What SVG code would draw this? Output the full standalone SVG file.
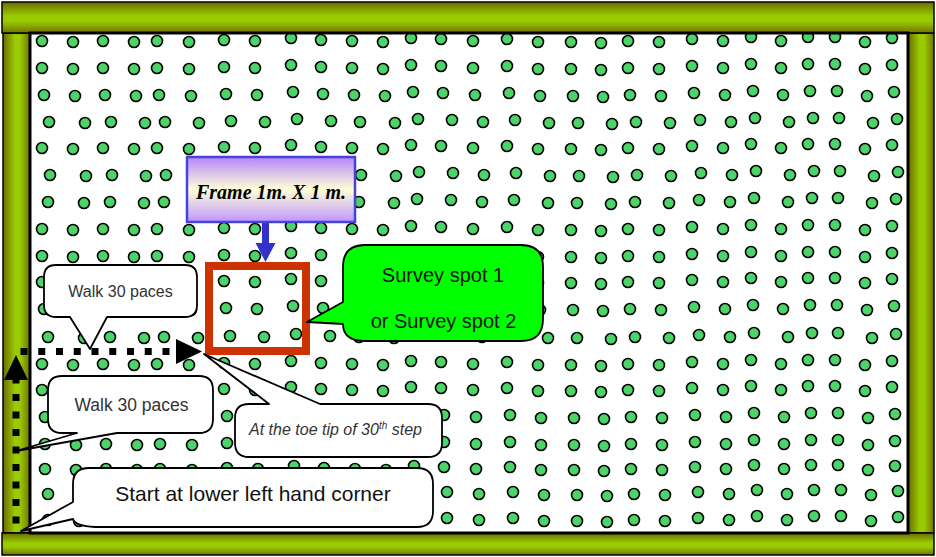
<svg xmlns="http://www.w3.org/2000/svg" xmlns:xlink="http://www.w3.org/1999/xlink" width="936" height="557" viewBox="0 0 936 557">
<style>
.bar{stroke:#000;stroke-width:1.5}
.call{fill:#fff;stroke:#000;stroke-width:1.8;stroke-linejoin:round}
.t{font-family:"Liberation Sans",Arial,sans-serif;text-anchor:middle}
.dash{fill:none;stroke:#000;stroke-width:7}
</style>
<defs>
<linearGradient id="gV" x1="0" y1="0" x2="0" y2="1">
<stop offset="0" stop-color="#6b6b00"/><stop offset="0.45" stop-color="#99cc00"/><stop offset="0.62" stop-color="#99cc00"/><stop offset="1" stop-color="#737300"/>
</linearGradient>
<linearGradient id="gH" x1="0" y1="0" x2="1" y2="0">
<stop offset="0" stop-color="#6b6b00"/><stop offset="0.45" stop-color="#99cc00"/><stop offset="0.62" stop-color="#99cc00"/><stop offset="1" stop-color="#737300"/>
</linearGradient>
<linearGradient id="gF" x1="0" y1="0" x2="0" y2="1">
<stop offset="0" stop-color="#b586ff"/><stop offset="0.5" stop-color="#ffffd6"/><stop offset="1" stop-color="#bf95ff"/>
</linearGradient>
<circle id="d" cx="0" cy="0" r="5.5" fill="#4cd46a" stroke="#000" stroke-width="1.6"/>
<g id="rA">
<use href="#d" x="42" y="0"/><use href="#d" x="73" y="1"/><use href="#d" x="103" y="0"/><use href="#d" x="134" y="1"/><use href="#d" x="157" y="0"/><use href="#d" x="189" y="1"/><use href="#d" x="224" y="-1"/><use href="#d" x="255" y="0"/><use href="#d" x="291" y="-3"/><use href="#d" x="321" y="-1"/><use href="#d" x="352" y="0"/><use href="#d" x="383" y="1"/><use href="#d" x="411" y="-3"/><use href="#d" x="441" y="-2"/><use href="#d" x="473" y="0"/><use href="#d" x="507" y="-2"/><use href="#d" x="538" y="1"/><use href="#d" x="571" y="1"/><use href="#d" x="601" y="2"/><use href="#d" x="628" y="0"/><use href="#d" x="659" y="1"/><use href="#d" x="692" y="-2"/><use href="#d" x="723" y="0"/><use href="#d" x="751" y="-4"/><use href="#d" x="781" y="0"/><use href="#d" x="808" y="-4"/><use href="#d" x="835" y="-4"/><use href="#d" x="865" y="1"/><use href="#d" x="892" y="-3"/>
</g>
<g id="rB">
<use href="#d" x="49" y="0"/><use href="#d" x="85" y="1"/><use href="#d" x="111" y="0"/><use href="#d" x="145" y="1"/><use href="#d" x="165" y="0"/><use href="#d" x="199" y="1"/><use href="#d" x="231" y="-1"/><use href="#d" x="265" y="0"/><use href="#d" x="297" y="-3"/><use href="#d" x="331" y="-1"/><use href="#d" x="360" y="0"/><use href="#d" x="395" y="1"/><use href="#d" x="418" y="-3"/><use href="#d" x="452" y="-2"/><use href="#d" x="483" y="0"/><use href="#d" x="515" y="-2"/><use href="#d" x="549" y="1"/><use href="#d" x="578" y="1"/><use href="#d" x="612" y="2"/><use href="#d" x="636" y="0"/><use href="#d" x="670" y="1"/><use href="#d" x="700" y="-2"/><use href="#d" x="731" y="0"/><use href="#d" x="755" y="-4"/><use href="#d" x="789" y="0"/><use href="#d" x="813" y="-4"/><use href="#d" x="839" y="-4"/><use href="#d" x="873" y="1"/><use href="#d" x="897" y="-3"/>
</g>
</defs>
<rect width="936" height="557" fill="#fff"/>
<g id="field">
<use href="#rA" y="41"/>
<use href="#rA" y="68"/>
<use href="#rA" x="2" y="95"/>
<use href="#rB" y="122"/>
<use href="#rA" y="148"/>
<use href="#rB" x="1" y="175"/>
<use href="#rB" x="-1" y="202"/>
<use href="#rA" y="229"/>
<use href="#rA" y="256"/>
<use href="#rA" y="282"/>
<use href="#rA" x="2" y="309"/>
<use href="#rB" x="-1" y="337"/>
<use href="#rA" y="364"/>
<use href="#rA" y="390"/>
<use href="#rA" x="3" y="417"/>
<use href="#rA" x="3" y="444"/>
<use href="#rA" x="3" y="469"/>
<use href="#rA" x="6" y="494"/>
<use href="#rA" x="6" y="520"/>
</g>
<g id="border">
<rect class="bar" x="3" y="33" width="27" height="500" fill="url(#gH)"/>
<rect class="bar" x="908" y="33" width="26" height="500" fill="url(#gH)"/>
<rect class="bar" x="2" y="2" width="932" height="31" fill="url(#gV)"/>
<rect class="bar" x="2" y="533" width="932" height="22" fill="url(#gV)"/>
<rect x="30" y="33" width="878" height="500" fill="none" stroke="#000" stroke-width="3"/>
</g>
<g id="frame">
<rect x="209" y="266" width="97" height="85" fill="none" stroke="#cc3300" stroke-width="8"/>
</g>
<g id="connectors">
<path d="M265.5,222 V245" stroke="#3333cc" stroke-width="7" fill="none"/>
<polygon points="255.5,243 275.5,243 265.5,262" fill="#3333cc"/>
<path class="dash" d="M16,523.5 V380" stroke-dasharray="7 10.5"/>
<polygon points="16,355 4,380 28,380" fill="#000"/>
<path class="dash" d="M20.5,351.5 H170" stroke-dasharray="7 10.75"/>
<polygon points="176,339 202,351.5 176,364" fill="#000"/>
</g>
<g id="frame-label">
<rect x="187" y="157" width="168" height="65" fill="url(#gF)" stroke="#4444dd" stroke-width="2.5"/>
<text x="271" y="199" font-family="Liberation Serif, serif" font-weight="bold" font-style="italic" font-size="20" text-anchor="middle" fill="#000">Frame 1m. X 1 m.</text>
</g>
<g id="survey-callout">
<path d="M365,245 H521 Q543,245 543,267 V319 Q543,341 521,341 H365 Q343,341 343,324 L307,322 L343,302 V267 Q343,245 365,245 Z" fill="#00ff00" stroke="#000" stroke-width="1.8" stroke-linejoin="round"/>
<text class="t" x="443" y="282" font-size="20" fill="#111">Survey spot 1</text>
<text class="t" x="443.5" y="328" font-size="20" fill="#111">or Survey spot 2</text>
</g>
<g id="walk-callout-1">
<path class="call" d="M56,265 H185 Q197,265 197,277 V305 Q197,317 185,317 H107 L90,349 L70,317 H56 Q44,317 44,305 V277 Q44,265 56,265 Z"/>
<text class="t" x="120.5" y="297" font-size="16" fill="#333">Walk 30 paces</text>
</g>
<g id="walk-callout-2">
<path class="call" d="M62,376 H199 Q213,376 213,390 V419 Q213,433 199,433 H117 L16,451 L77,433 H62 Q48,433 48,419 V390 Q48,376 62,376 Z"/>
<text class="t" x="131.5" y="411" font-size="17.5" fill="#333">Walk 30 paces</text>
</g>
<g id="toe-callout">
<path class="call" d="M249,404 H269 L204,354 L320,404 H428 Q442,404 442,418 V443 Q442,457 428,457 H249 Q235,457 235,443 V418 Q235,404 249,404 Z"/>
<text class="t" x="335.5" y="435" font-size="16" font-style="italic" fill="#333">At the toe tip of 30<tspan font-size="10" dy="-6">th</tspan><tspan dy="6"> step</tspan></text>
</g>
<g id="start-callout">
<path class="call" d="M89,468 H417 Q433,468 433,484 V511 Q433,527 417,527 H95 Q75,526 73,519 L21,531 L73,502 V484 Q73,468 89,468 Z"/>
<text class="t" x="253" y="501" font-size="21" fill="#111">Start at lower left hand corner</text>
</g>
</svg>
